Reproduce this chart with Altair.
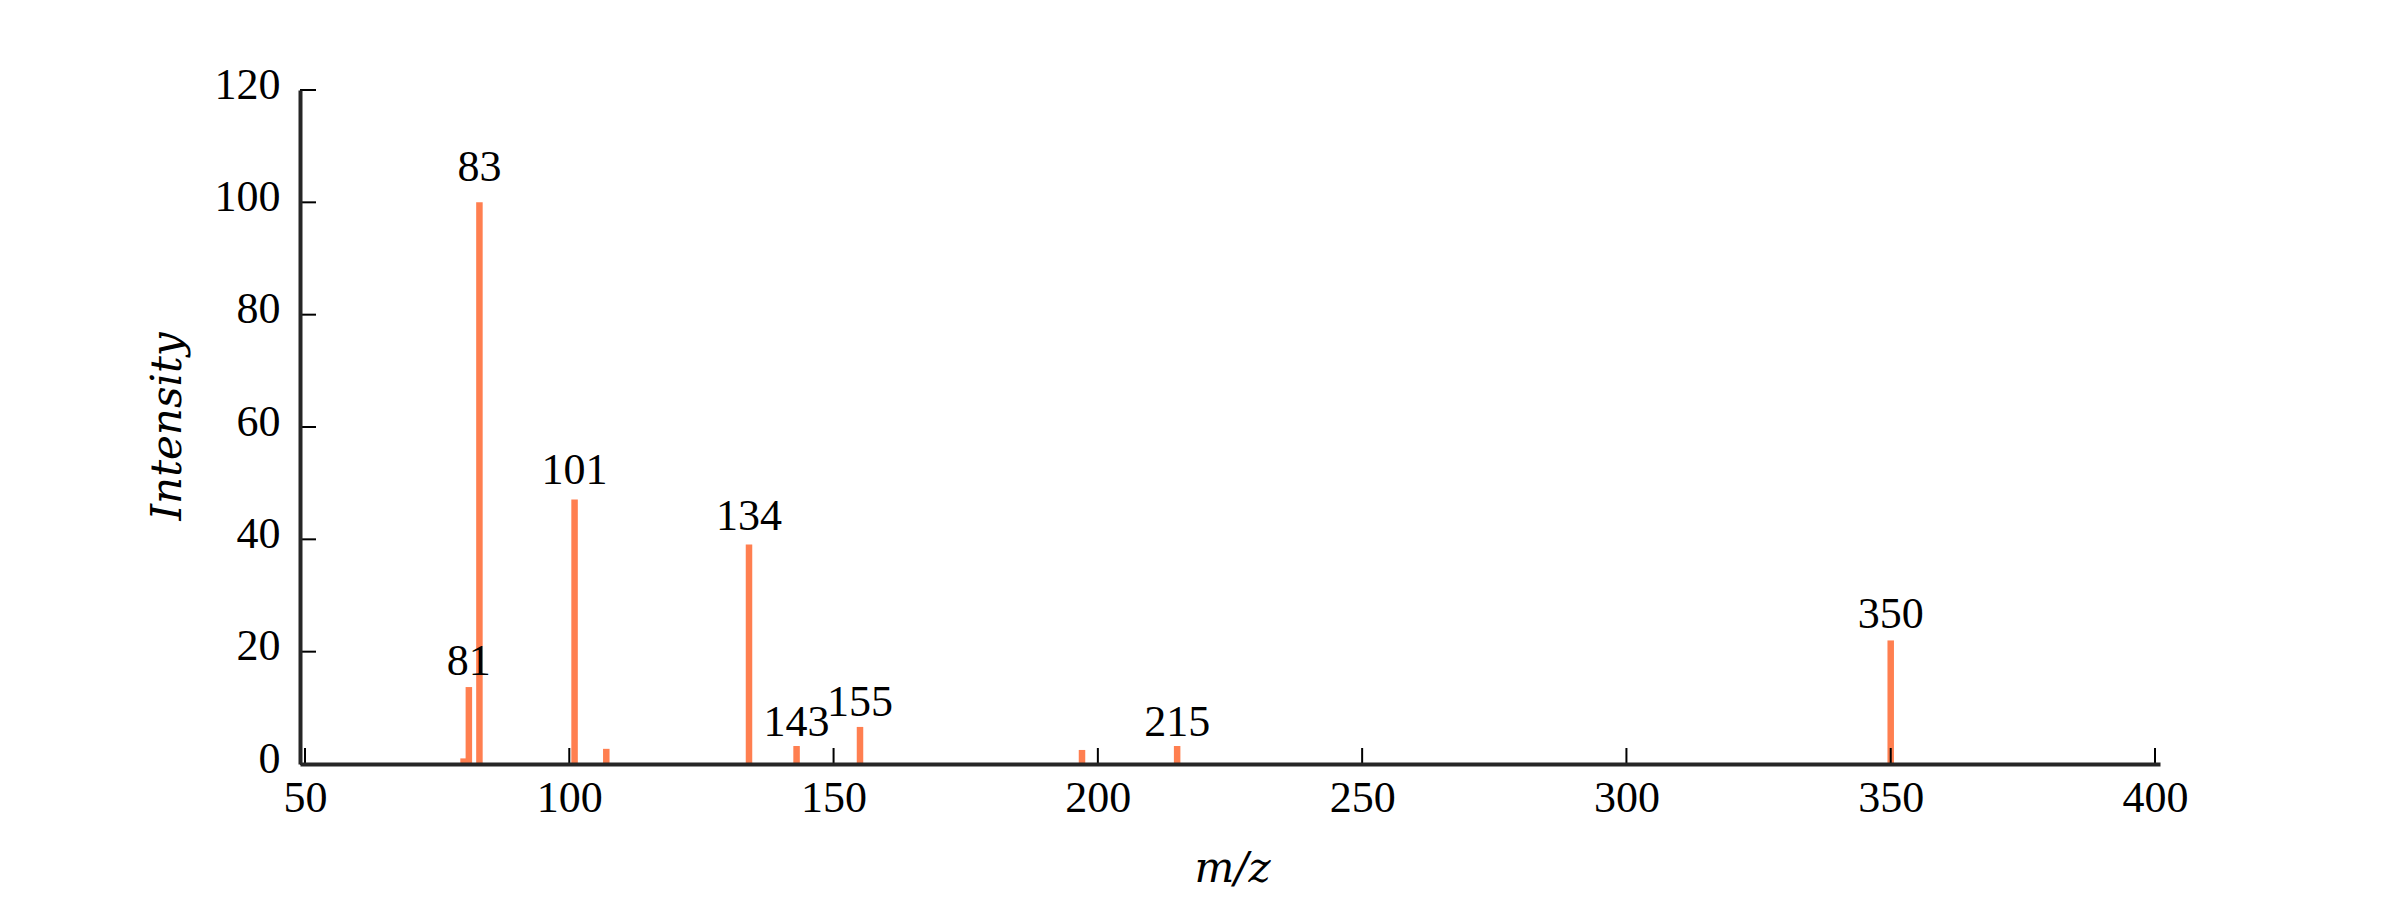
import altair as alt
import pandas as pd

# Peaks (m/z, relative intensity)
mz = [80, 81, 83, 101, 107, 134, 143, 155, 197, 215, 350]
intensity = [1.0, 13.7, 100.0, 47.1, 2.7, 39.1, 3.2, 6.6, 2.5, 3.2, 22.0]
labeled = [81, 83, 101, 134, 143, 155, 215, 350]

x_ticks = [50, 100, 150, 200, 250, 300, 350, 400]
y_ticks = [0, 20, 40, 60, 80, 100, 120]

peaks = pd.DataFrame({"mz": mz, "intensity": intensity})
labels = peaks[peaks["mz"].isin(labeled)].copy()
labels["txt"] = labels["mz"].astype(str)
xt = pd.DataFrame({"mz": x_ticks})
yt = pd.DataFrame({"intensity": y_ticks})

W, H = 1860, 674
FS = 44
xscale = alt.Scale(domain=[50, 400], nice=False, zero=False)
yscale = alt.Scale(domain=[0, 120], nice=False)

axis_common = dict(
    domain=True, domainColor="#262626", domainWidth=4, ticks=False, grid=False,
    labelFont="Liberation Serif", labelFontSize=FS, labelColor="black",
    titleFont="DejaVu Serif", titleFontStyle="italic", titleFontWeight="normal",
    titleFontSize=42, titleColor="black", titleBaseline="alphabetic", zindex=1,
)
xaxis = alt.Axis(values=x_ticks, title="m/z", labelPadding=12,
                 titleX=932, titleY=117, titleAlign="center", **axis_common)
yaxis = alt.Axis(values=y_ticks, title="Intensity", labelPadding=20, labelOffset=-5,
                 titleX=-120, titleY=336, titleAngle=-90, titleAlign="center",
                 **axis_common)

bars = alt.Chart(peaks).mark_bar(size=6.5, color="#FF7F50").encode(
    x=alt.X("mz:Q", scale=xscale, axis=xaxis),
    y=alt.Y("intensity:Q", scale=yscale, axis=yaxis),
)

text = alt.Chart(labels).transform_calculate(
    intensity="datum.intensity * 1.02 + 1.8"
).mark_text(font="Liberation Serif", fontSize=FS, color="black",
            baseline="alphabetic", align="center").encode(
    x=alt.X("mz:Q", scale=xscale, axis=xaxis),
    y=alt.Y("intensity:Q", scale=yscale, axis=yaxis),
    text="txt:N",
)

xtick_marks = alt.Chart(xt).mark_rule(color="black", strokeWidth=2).encode(
    x=alt.X("mz:Q", scale=xscale, axis=xaxis),
    y=alt.value(H), y2=alt.value(H - 16),
)
ytick_marks = alt.Chart(yt).mark_rule(color="black", strokeWidth=2).encode(
    y=alt.Y("intensity:Q", scale=yscale, axis=yaxis),
    x=alt.value(0), x2=alt.value(16),
)

chart = alt.layer(bars, text, xtick_marks, ytick_marks).properties(
    width=W, height=H,
    autosize=alt.AutoSizeParams(type="none"),
    padding={"left": 292, "top": 82, "right": 232, "bottom": 128},
    background="white",
).configure_view(stroke=None)

chart.save("out.html", embed_options={"renderer": "svg", "actions": False})
